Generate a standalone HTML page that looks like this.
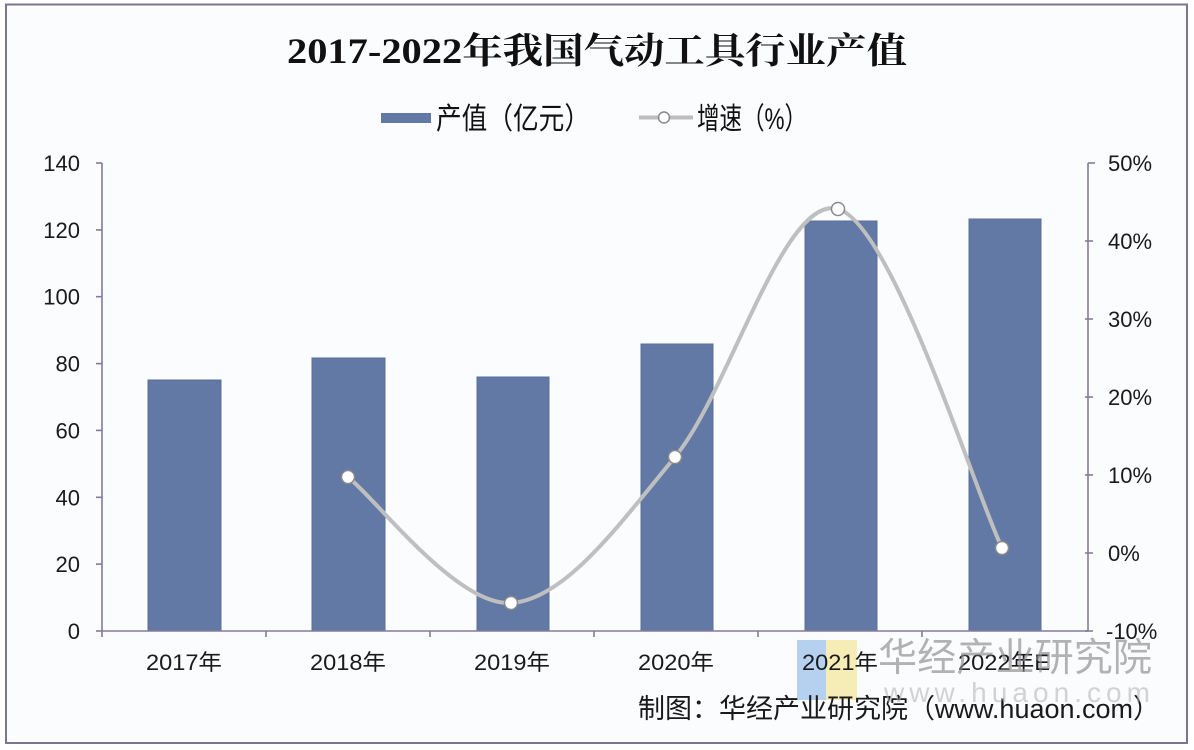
<!DOCTYPE html>
<html><head><meta charset="utf-8"><style>
html,body{margin:0;padding:0;background:#fff;}
svg{display:block;}
</style></head><body>
<svg width="1194" height="750" viewBox="0 0 1194 750" xmlns="http://www.w3.org/2000/svg">
<rect x="0" y="0" width="1194" height="750" fill="#ffffff"/>
<rect x="6" y="4.5" width="1181" height="738.5" fill="#fbfcfe" stroke="#7d7590" stroke-width="2"/>
<!-- title -->
<text x="597" y="63" text-anchor="middle" font-family="'Liberation Serif','Noto Serif CJK SC',serif" font-weight="bold" font-size="36" fill="#111" textLength="620" lengthAdjust="spacingAndGlyphs">2017-2022年我国气动工具行业产值</text>
<!-- legend -->
<rect x="381" y="113" width="50" height="10" fill="#6279a5"/>
<text x="436" y="129" font-family="'Liberation Sans','Noto Sans CJK SC',sans-serif" font-size="30" fill="#111" textLength="154" lengthAdjust="spacingAndGlyphs">产值（亿元）</text>
<line x1="639" y1="117.5" x2="693" y2="117.5" stroke="#bdbdbd" stroke-width="4"/>
<circle cx="664" cy="117.5" r="5.5" fill="#fff" stroke="#888" stroke-width="1.5"/>
<text x="697" y="129" font-family="'Liberation Sans','Noto Sans CJK SC',sans-serif" font-size="30" fill="#111" textLength="110" lengthAdjust="spacingAndGlyphs">增速（%）</text>
<!-- bars -->
<g fill="#6279a5" stroke="#5a6f9a" stroke-width="1">
<rect x="148" y="380" width="73" height="251"/>
<rect x="312" y="358" width="73" height="273"/>
<rect x="477" y="377" width="72" height="254"/>
<rect x="641" y="344" width="72" height="287"/>
<rect x="805" y="221" width="72" height="410"/>
<rect x="969" y="219" width="72" height="412"/>
</g>
<!-- axes -->
<g stroke="#857b98" stroke-width="1.6" fill="none">
<line x1="102" y1="163" x2="102" y2="631"/>
<line x1="1088" y1="163" x2="1088" y2="631"/>
<line x1="102" y1="631" x2="1088" y2="631"/>
<line x1="96" y1="163" x2="102" y2="163"/>
<line x1="96" y1="229.9" x2="102" y2="229.9"/>
<line x1="96" y1="296.7" x2="102" y2="296.7"/>
<line x1="96" y1="363.6" x2="102" y2="363.6"/>
<line x1="96" y1="430.4" x2="102" y2="430.4"/>
<line x1="96" y1="497.3" x2="102" y2="497.3"/>
<line x1="96" y1="564.1" x2="102" y2="564.1"/>
<line x1="96" y1="631" x2="102" y2="631"/>
<line x1="1088" y1="163" x2="1095" y2="163"/>
<line x1="1085" y1="241" x2="1093" y2="241"/>
<line x1="1085" y1="319" x2="1093" y2="319"/>
<line x1="1085" y1="397" x2="1093" y2="397"/>
<line x1="1085" y1="475" x2="1093" y2="475"/>
<line x1="1085" y1="553" x2="1093" y2="553"/>
<line x1="1085" y1="631" x2="1093" y2="631"/>
<line x1="102" y1="631" x2="102" y2="637"/>
<line x1="266" y1="631" x2="266" y2="637"/>
<line x1="430" y1="631" x2="430" y2="637"/>
<line x1="594" y1="631" x2="594" y2="637"/>
<line x1="758" y1="631" x2="758" y2="637"/>
<line x1="922" y1="631" x2="922" y2="637"/>
</g>
<!-- left labels -->
<g font-family="'Liberation Sans',sans-serif" font-size="22" fill="#1a1a1a" text-anchor="end">
<text x="80" y="171">140</text>
<text x="80" y="238">120</text>
<text x="80" y="304.7">100</text>
<text x="80" y="371.6">80</text>
<text x="80" y="438.4">60</text>
<text x="80" y="505.3">40</text>
<text x="80" y="572.1">20</text>
<text x="80" y="639">0</text>
</g>
<!-- right labels -->
<g font-family="'Liberation Sans',sans-serif" font-size="22" fill="#1a1a1a">
<text x="1108" y="171">50%</text>
<text x="1108" y="249">40%</text>
<text x="1108" y="327">30%</text>
<text x="1108" y="405">20%</text>
<text x="1108" y="483">10%</text>
<text x="1108" y="561">0%</text>
<text x="1106" y="639">-10%</text>
</g>
<!-- watermark logo -->
<rect x="797" y="640" width="29" height="60" fill="#a9c8ec" opacity="0.85"/>
<rect x="826" y="640" width="31" height="60" fill="#f5e9a8" opacity="0.85"/>
<!-- x labels -->
<g font-family="'Liberation Sans','Noto Sans CJK SC',sans-serif" font-size="22" fill="#1a1a1a" text-anchor="middle">
<text x="184" y="670" textLength="76" lengthAdjust="spacingAndGlyphs">2017年</text>
<text x="348" y="670" textLength="76" lengthAdjust="spacingAndGlyphs">2018年</text>
<text x="512" y="670" textLength="76" lengthAdjust="spacingAndGlyphs">2019年</text>
<text x="676" y="670" textLength="76" lengthAdjust="spacingAndGlyphs">2020年</text>
<text x="840" y="670" textLength="76" lengthAdjust="spacingAndGlyphs">2021年</text>
<text x="1004" y="670" textLength="92" lengthAdjust="spacingAndGlyphs">2022年E</text>
</g>
<!-- growth line -->
<path d="M348,477 C375.2,498 456.5,606.3 511,603 C565.5,599.7 620.5,522.7 675,457 C729.5,391.3 783.5,193.8 838,209 C892.5,224.2 974.7,491.5 1002,548" fill="none" stroke="#bfbfbf" stroke-width="4" stroke-linecap="round"/>
<g fill="#fff" stroke="#8a8a8a" stroke-width="1.5">
<circle cx="348" cy="477" r="6.5"/>
<circle cx="511" cy="603" r="6.5"/>
<circle cx="675" cy="457" r="6.5"/>
<circle cx="838" cy="209" r="6.5"/>
<circle cx="1002" cy="548" r="6.5"/>
</g>
<!-- footer -->
<text x="638" y="718" font-family="'Liberation Sans','Noto Sans CJK SC',sans-serif" font-size="27" fill="#1a1a1a" textLength="522" lengthAdjust="spacingAndGlyphs">制图：华经产业研究院（www.huaon.com）</text>
<!-- watermark text -->
<text x="878" y="671" font-family="'Liberation Sans','Noto Sans CJK SC',sans-serif" font-size="39" fill="#8c8c8c" opacity="0.65" textLength="274" lengthAdjust="spacingAndGlyphs">华经产业研究院</text>
<text x="884" y="702" font-family="'Liberation Sans',sans-serif" font-size="28" fill="#b0b0b0" opacity="0.55" textLength="266" lengthAdjust="spacing">www.huaon.com</text>
</svg>
</body></html>
